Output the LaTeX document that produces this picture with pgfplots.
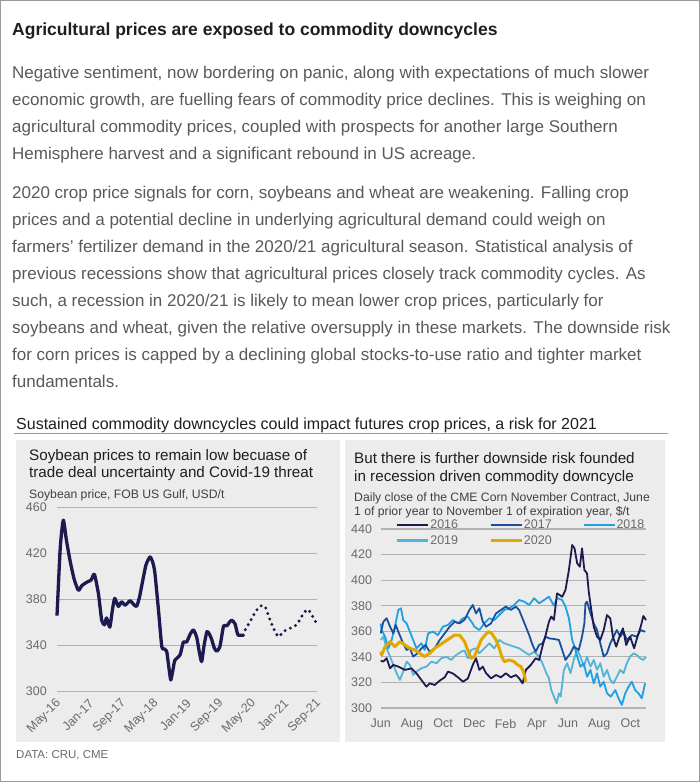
\documentclass[border=0pt]{standalone}
\usepackage{fontspec}
\setmainfont{Liberation Sans}
\usepackage{pgfplots}
\pgfplotsset{compat=1.18}

\definecolor{framegray}{HTML}{9A9A9A}
\definecolor{bodygray}{HTML}{58595B}
\definecolor{headblack}{HTML}{1E1E1E}
\definecolor{panelgray}{HTML}{ECECEC}
\definecolor{gridgray}{HTML}{B2B2B2}
\definecolor{tickgray}{HTML}{6A6A6A}
\definecolor{navy}{HTML}{1D1A4F}
\definecolor{c2017}{HTML}{1B4F9E}
\definecolor{c2018}{HTML}{1FA0E3}
\definecolor{c2019}{HTML}{52B5D8}
\definecolor{c2020}{HTML}{E0A800}

\newcommand\bodyfont{\fontsize{17bp}{20bp}\selectfont}
\newcommand\tickfont{\fontsize{12.5bp}{14bp}\selectfont}

\pgfplotsset{
  panel/.style={
    scale only axis, clip=false,
    axis line style={draw=none}, tick style={draw=none},
    ymajorgrids, grid style={gridgray, line width=1.2bp},
    ticklabel style={font=\tickfont, text=tickgray},
    /pgf/number format/assume math mode=true,
  },
}

\begin{document}
\begin{tikzpicture}
\begin{scope}[x=1bp,y=-1bp]
\useasboundingbox (0,0) rectangle (700,782);
\draw[framegray, line width=1bp] (0.5,0.5) rectangle (699.5,781.5);

% text block
\node[anchor=base west, inner sep=0, text=headblack, font=\bfseries\fontsize{17.5bp}{20bp}\selectfont] at (12,36) {Agricultural prices are exposed to commodity downcycles};

\begin{scope}[every node/.style={anchor=base west, inner sep=0, text=bodygray, font=\bodyfont}]
\node at (12,78.5) {Negative sentiment, now bordering on panic, along with expectations of much slower};
\node at (12,105.5) {economic growth, are fuelling fears of commodity price declines. This is weighing on};
\node at (12,132.5) {agricultural commodity prices, coupled with prospects for another large Southern};
\node at (12,159.5) {Hemisphere harvest and a significant rebound in US acreage.};
\node at (12,198.5) {2020 crop price signals for corn, soybeans and wheat are weakening. Falling crop};
\node at (12,225.5) {prices and a potential decline in underlying agricultural demand could weigh on};
\node at (12,252.5) {farmers’ fertilizer demand in the 2020/21 agricultural season. Statistical analysis of};
\node at (12,279.5) {previous recessions show that agricultural prices closely track commodity cycles. As};
\node at (12,306.5) {such, a recession in 2020/21 is likely to mean lower crop prices, particularly for};
\node at (12,333.5) {soybeans and wheat, given the relative oversupply in these markets. The downside risk};
\node at (12,360.5) {for corn prices is capped by a declining global stocks-to-use ratio and tighter market};
\node at (12,387.5) {fundamentals.};
\end{scope}

\node[anchor=base west, inner sep=0, text=headblack, font=\fontsize{16bp}{18bp}\selectfont] at (16,429.5) {Sustained commodity downcycles could impact futures crop prices, a risk for 2021};
\draw[framegray, line width=1.3bp] (14,433.5) -- (668,433.5);

% panels
\fill[panelgray] (16,440) rectangle (340,742);
\fill[panelgray] (345,440) rectangle (665,742);

\begin{scope}[every node/.style={anchor=base west, inner sep=0}]
\node[text=headblack, font=\fontsize{15.2bp}{17bp}\selectfont] at (29,460.5) {Soybean prices to remain low becuase of};
\node[text=headblack, font=\fontsize{15.2bp}{17bp}\selectfont] at (29,477) {trade deal uncertainty and Covid-19 threat};
\node[text=headblack!85, font=\fontsize{12.2bp}{14bp}\selectfont] at (29,498.5) {Soybean price, FOB US Gulf, USD/t};
\node[text=headblack, font=\fontsize{15.2bp}{17bp}\selectfont] at (354,463.5) {But there is further downside risk founded};
\node[text=headblack, font=\fontsize{15.2bp}{17bp}\selectfont] at (354,481) {in recession driven commodity downcycle};
\node[text=headblack!85, font=\fontsize{12.2bp}{14bp}\selectfont] at (354,501.5) {Daily close of the CME Corn November Contract, June};
\node[text=headblack!85, font=\fontsize{12.2bp}{14bp}\selectfont] at (354,515) {1 of prior year to November 1 of expiration year, \$/t};
\node[text=tickgray, font=\fontsize{11.5bp}{13bp}\selectfont] at (16,758) {DATA: CRU, CME};
\end{scope}
\end{scope}

% left chart: soybean price, months since May-16
\begin{axis}[panel,
  at={(57bp,-691.5bp)}, anchor=south west,
  width=260bp, height=184bp,
  xmin=0, xmax=64, ymin=300, ymax=460,
  xtick={0,8,...,64},
  xticklabels={May-16,Jan-17,Sep-17,May-18,Jan-19,Sep-19,May-20,Jan-21,Sep-21},
  ytick={300,340,...,460},
  yticklabel style={inner sep=0pt, xshift=-10bp},
  xticklabel style={inner sep=0pt, xshift=2bp, yshift=-10bp, rotate=45, anchor=east},
]
\addplot[navy, line width=3.3bp, smooth, tension=0.35, line join=round] coordinates {
(0,366) (0.8,425) (1.55,449) (2.3,432) (3.2,414) (4.2,398) (5.25,388) (6.1,392)
(7.3,395) (8.4,397) (9.2,402) (10.2,385) (11.0,362) (11.7,358) (12.2,364) (13,356)
(13.6,370) (14.2,381) (15.1,374) (15.9,378) (16.7,375) (17.4,377) (18,379) (18.8,376)
(19.6,374) (20.3,382) (20.8,391) (21.9,410) (22.9,417) (23.6,412) (24.1,403) (25,370)
(25.8,339) (26.5,337) (27,335) (27.5,322) (28,310) (28.6,320) (29,327) (30.3,332)
(31.1,343) (31.9,343) (32.8,350) (33.6,353.5) (34.4,347) (35,335) (35.6,326) (36.2,340)
(36.9,352) (37.5,350) (38.1,345) (38.7,338) (39.3,335) (40.1,339) (41,357) (41.8,357)
(42.4,360) (43,362) (43.8,359) (44.3,352) (44.6,349) (45.9,349)
};
\addplot[navy, line width=3.3bp, smooth, tension=0.4, line cap=round, dash pattern=on 0bp off 5.8bp] coordinates {
(45.9,349) (46.3,353.5) (47.5,360.7) (48.8,369) (50,374.3) (51.2,374) (52,366.5)
(53.3,355) (54.5,347.7) (55.7,352) (57.4,355) (59,358) (60.7,368) (61.9,371) (63.9,359)
};
\end{axis}

% right chart: CME corn November contract, months since Jun 1 of prior year
\begin{axis}[panel,
  at={(380.7bp,-708bp)}, anchor=south west,
  width=265.3bp, height=179bp,
  xmin=0, xmax=17, ymin=300, ymax=440,
  xtick={0,2,...,16},
  xticklabels={Jun,Aug,Oct,Dec,Feb,Apr,Jun,Aug,Oct},
  ytick={300,320,...,440},
  yticklabel style={inner sep=0pt, xshift=-8.5bp},
  xticklabel style={inner sep=0pt, yshift=-11bp},
  legend columns=3,
  legend cell align=left,
  legend image code/.code={\draw[#1] (0bp,0bp) -- (31bp,0bp);},
  legend style={at={(axis description cs:0.046,1.066)}, anchor=north west,
    draw=none, fill=none, font=\tickfont, text=tickgray,
    row sep=4bp, nodes={inner sep=0.6bp},
    /tikz/every even column/.append style={column sep=30bp}},
]
\addlegendimage{navy, line width=2.6bp}\addlegendentry{2016}
\addlegendimage{c2017, line width=2.6bp}\addlegendentry{2017}
\addlegendimage{c2018, line width=2.6bp}\addlegendentry{2018}
\addlegendimage{c2019, line width=2.6bp}\addlegendentry{2019}
\addlegendimage{c2020, line width=3.6bp}\addlegendentry{2020}

% 2019
\addplot[forget plot, c2019, line width=1.8bp, line join=round] coordinates {
(0,353.2) (0.17,355.8) (0.38,346.7) (0.6,340.2) (0.81,333.7) (1.02,327.2) (1.23,322)
(1.44,328.5) (1.66,336.3) (1.87,333.7) (2.08,325.9) (2.29,328.5) (2.61,331.1) (2.93,332.4)
(3.25,336.3) (3.57,335) (3.89,338.9) (4.2,340.2) (4.52,337.6) (4.84,341.5) (5.16,344.1)
(5.37,345) (5.58,338.9) (5.79,345.4) (6.11,346.7) (6.32,342.8) (6.64,346.7) (6.96,350.6)
(7.28,346.7) (7.6,353.2) (7.92,350.6) (8.24,349.3) (8.55,348) (8.87,346.7) (9.19,344.1)
(9.51,341.5) (9.83,344.1) (10.15,340.2) (10.36,335) (10.57,328.5) (10.78,323.2) (10.93,314.1)
(11.1,308.9) (11.27,303.7) (11.42,311.5) (11.53,308.9) (11.74,329.8) (11.95,335) (12.16,327.2)
(12.37,337.6) (12.59,345.4) (12.8,340.2) (13.01,332.3) (13.22,340.2) (13.44,332.3) (13.65,337.6)
(13.86,329.8) (14.07,335) (14.29,324.5) (14.5,329.8) (14.71,322) (14.92,319.3) (15.13,324.5)
(15.35,329.8) (15.56,327.2) (15.77,335) (15.98,340.2) (16.2,342.8) (16.41,341.5) (16.62,338.9)
(16.83,337.6) (17,340.2)
};
% 2018
\addplot[forget plot, c2018, line width=1.8bp, line join=round] coordinates {
(0,366) (0.06,361) (0.28,355.8) (0.49,346.7) (0.7,353.2) (0.91,363.6) (1.13,376.7) (1.3,378)
(1.44,368.8) (1.66,366.2) (1.87,359.7) (2.08,353.2) (2.29,346.7) (2.61,350.6) (2.82,345.4)
(3.04,358.4) (3.35,359.7) (3.67,357.1) (3.99,363.6) (4.31,365) (4.63,368.8) (4.95,366.2)
(5.27,370.2) (5.58,371.5) (5.9,366) (6.0,363.6) (6.32,361) (6.64,366.2) (6.96,370.2)
(7.28,368.8) (7.6,372.8) (7.92,376.7) (8.24,378) (8.55,380.6) (8.87,384.5) (9.19,383.2)
(9.51,380.6) (9.83,385.8) (10.15,381.9) (10.47,384.5) (10.78,387.1) (11.1,380) (11.3,386)
(11.63,384.5) (11.84,379.3) (12.06,370.2) (12.27,353.2) (12.42,348) (12.59,340.2) (12.8,332.3)
(13.01,335) (13.22,324.5) (13.44,329.8) (13.65,319.3) (13.86,327.2) (14.07,316.7) (14.29,320.6)
(14.5,311.5) (14.75,308.9) (15.03,314.1) (15.24,307.6) (15.45,302.4) (15.67,311.5) (15.88,316.7)
(16.09,320.6) (16.3,314.1) (16.52,311.5) (16.73,307.6) (16.94,319.3)
};
% 2017
\addplot[forget plot, c2017, line width=1.8bp, line join=round] coordinates {
(0,358.4) (0.17,367.5) (0.38,370.2) (0.6,363.6) (0.81,358.4) (0.96,365) (1.17,358.4)
(1.44,350.6) (1.66,345.4) (1.87,346.7) (2.08,340.2) (2.36,342.8) (2.61,346.7) (2.87,349.3)
(3.14,344) (3.46,346.7) (3.78,353.2) (4.1,358.4) (4.42,363.6) (4.73,367.5) (5.05,366.2)
(5.37,369) (5.69,376.7) (5.9,380.6) (6.11,374) (6.32,378) (6.54,367.5) (6.75,363.6)
(7.07,366.2) (7.39,374) (7.7,376.7) (8.02,379.3) (8.34,376.7) (8.66,379.3) (8.87,376.7)
(9.09,370) (9.3,363.6) (9.51,357.1) (9.73,349.3) (9.93,344) (10.15,349.3) (10.36,350.6)
(10.57,355.8) (10.78,354.5) (11.1,354) (11.42,353.2) (11.63,345.4) (11.84,337.6) (12.16,342.8)
(12.37,348) (12.69,345.4) (12.9,355.8) (13.05,366.2) (13.12,381.9) (13.22,383.2) (13.44,374)
(13.65,366.2) (13.86,361) (14.07,350.6) (14.29,340.2) (14.5,342.8) (14.71,350.6) (14.92,355.8)
(15.13,361) (15.35,355.8) (15.56,359.7) (15.77,353.2) (16.09,357.1) (16.41,355.8) (16.66,361)
(16.94,359.7)
};
% 2016
\addplot[forget plot, navy, line width=1.8bp, line join=round] coordinates {
(0,337) (0.17,336.3) (0.38,339) (0.6,331) (0.8,333.7) (1.13,332.4) (1.55,329.8) (1.97,331)
(2.3,327) (2.6,322) (2.93,316.7) (3.14,319.3) (3.46,318) (3.78,321.4) (4.1,324) (4.31,328.5)
(4.63,327) (4.95,324) (5.27,320.6) (5.58,323) (5.9,333.7) (6.11,338.9) (6.32,329.8)
(6.54,332.4) (6.75,327.2) (7.07,323.2) (7.39,325.8) (7.7,324) (8.02,327.2) (8.34,324)
(8.66,325.8) (8.87,323.2) (9.09,319.3) (9.3,329.8) (9.62,333.7) (9.93,338.9) (10.15,337.6)
(10.36,348) (10.57,357.1) (10.78,367.5) (10.93,371.5) (11.1,368.9) (11.3,389.7) (11.63,387)
(11.84,392.3) (12.06,408) (12.27,427.5) (12.42,424.9) (12.59,413.1) (12.76,410.5) (12.9,424.9)
(13.05,408) (13.22,405.3) (13.33,391) (13.48,378) (13.65,363.6) (13.86,355.8) (14.07,353.2)
(14.29,361) (14.5,372.7) (14.71,370.1) (14.88,355.8) (15.09,348) (15.3,355.8) (15.52,362.3)
(15.73,349.3) (15.98,355.8) (16.24,346.7) (16.45,355.8) (16.66,363.6) (16.83,372) (17,368.8)
};
% 2020
\addplot[forget plot, c2020, line width=3bp, line join=round] coordinates {
(0,344.1) (0.06,341.5) (0.28,348) (0.6,351.9) (0.91,348) (1.23,351.9) (1.55,349.3)
(1.87,346.7) (2.19,345.4) (2.5,342.8) (2.82,340.2) (3.14,342.8) (3.46,346.7) (3.78,349.3)
(4.1,351.9) (4.42,354.5) (4.73,357.1) (5.05,357.1) (5.37,352) (5.58,345.4) (5.79,338.9)
(6.0,340.2) (6.22,346.7) (6.43,353.2) (6.69,357.1) (6.9,359.7) (7.11,358.4) (7.39,353.2)
(7.6,346.7) (7.75,340.2) (7.92,336.3) (8.24,337.6) (8.55,336.3) (8.77,333.7) (8.98,332.4)
(9.15,328.5) (9.3,320.6)
};
\end{axis}
\end{tikzpicture}
\end{document}
